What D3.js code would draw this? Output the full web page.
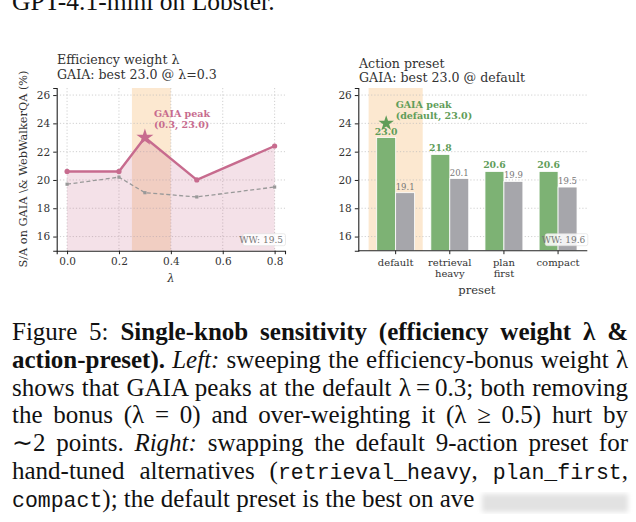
<!DOCTYPE html>
<html>
<head>
<meta charset="utf-8">
<script src="https://d3js.org/d3.v7.min.js"></script>
<style>
  body { margin: 0; background: white; }
  svg { display: block; }
  .cap { font-family: "Liberation Serif", "Times New Roman", serif; fill: #111; }
</style>
</head>
<body>
<div id="fig"></div>
<script>
// ---- data ----
var lambdas = [0.0, 0.2, 0.3, 0.5, 0.8];
var gaiaLambda = [20.6, 20.6, 23.0, 20.0, 22.4];
var wwLambda = [19.7, 20.2, 19.1, 18.8, 19.5];
var lambdaTicks = [0.0, 0.2, 0.4, 0.6, 0.8];

var presets = ["default", "retrieval heavy", "plan first", "compact"];
var gaiaPreset = [23.0, 21.8, 20.6, 20.6];
var wwPreset = [19.1, 20.1, 19.9, 19.5];

var yTicks = [16, 18, 20, 22, 24, 26];
var wwSummary = ["WW: 19.5", "WW: 19.6"];

var W = 636, H = 522;
var pink = "#c76b8e", green = "#7db274", greenDark = "#5f9d59", grey = "#a6a6ab";
var SERIF = "'DejaVu Serif', serif";

var svg = d3.select("#fig").append("svg").attr("width", W).attr("height", H);
var chart = svg.append("g").attr("class", "chart");

function grid(g, x0, x1, y) {
  g.selectAll(".hg").data(yTicks).enter().append("line")
    .attr("x1", x0).attr("x2", x1)
    .attr("y1", function(d) { return y(d); }).attr("y2", function(d) { return y(d); })
    .attr("stroke", "#bbb").attr("stroke-width", 0.7).attr("stroke-dasharray", "1.2,2");
}

function styleAxis(a) {
  a.attr("font-family", SERIF);
  a.select(".domain").attr("stroke", "#222").attr("stroke-width", 1.1);
  a.selectAll(".tick line").attr("stroke", "#222");
  a.selectAll("text").style("font-size", "10.5px").style("font-family", SERIF).attr("fill", "#333");
}

function yAxis(g, x0, y) {
  g.append("g").attr("transform", "translate(" + x0 + ",0)")
    .call(d3.axisLeft(y).tickValues(yTicks).tickSize(3.5).tickPadding(3).tickFormat(d3.format("d")))
    .call(styleAxis);
}

function wwBox(g, xr, yb, label) {
  var t = g.append("text").attr("x", xr - 2).attr("y", yb - 8)
    .attr("text-anchor", "end").style("font-size", "9px").style("fill", "#777").text(label);
  var bb = t.node().getBBox();
  g.insert("rect", "text:last-child")
    .attr("x", bb.x - 3).attr("y", bb.y - 1).attr("width", bb.width + 5).attr("height", bb.height + 2)
    .attr("rx", 2).attr("fill", "white").attr("fill-opacity", 0.85)
    .attr("stroke", "#ddd").attr("stroke-width", 0.6);
}

// ---------------- left panel ----------------
var L = chart.append("g");
var xl = d3.scaleLinear().domain([-0.04, 0.84]).range([56.7, 285]);
var yl = d3.scaleLinear().domain([15, 26.5]).range([250.7, 88]);

L.append("rect").attr("x", xl(0.25)).attr("width", xl(0.4) - xl(0.25))
  .attr("y", yl(26.5)).attr("height", yl(15) - yl(26.5))
  .attr("fill", "#f7c98f").attr("fill-opacity", 0.42);

grid(L, 56.7, 285, yl);
L.selectAll(".vg").data(lambdaTicks).enter().append("line")
  .attr("x1", function(d) { return xl(d); }).attr("x2", function(d) { return xl(d); })
  .attr("y1", yl(26.5)).attr("y2", yl(15))
  .attr("stroke", "#bbb").attr("stroke-width", 0.7).attr("stroke-dasharray", "1.2,2");

var pts = lambdas.map(function(l, i) { return [l, gaiaLambda[i], wwLambda[i]]; });
L.append("path").datum(pts)
  .attr("d", d3.area().x(function(d) { return xl(d[0]); }).y0(yl(15)).y1(function(d) { return yl(d[1]); }))
  .attr("fill", pink).attr("fill-opacity", 0.2);

L.append("path").datum(pts)
  .attr("d", d3.line().x(function(d) { return xl(d[0]); }).y(function(d) { return yl(d[2]); }))
  .attr("fill", "none").attr("stroke", "#999").attr("stroke-width", 1.3).attr("stroke-dasharray", "4,2.5");
L.selectAll(".wwpt").data(pts).enter().append("rect")
  .attr("x", function(d) { return xl(d[0]) - 1.6; }).attr("y", function(d) { return yl(d[2]) - 1.6; })
  .attr("width", 3.2).attr("height", 3.2).attr("fill", "#999");

L.append("path").datum(pts)
  .attr("d", d3.line().x(function(d) { return xl(d[0]); }).y(function(d) { return yl(d[1]); }))
  .attr("fill", "none").attr("stroke", pink).attr("stroke-width", 2.4);
L.selectAll(".gpt").data(pts.filter(function(d) { return d[0] !== 0.3; })).enter().append("circle")
  .attr("cx", function(d) { return xl(d[0]); }).attr("cy", function(d) { return yl(d[1]); })
  .attr("r", 2.6).attr("fill", pink);
L.append("path").attr("d", d3.symbol().type(d3.symbolStar).size(90)())
  .attr("transform", "translate(" + xl(0.3) + "," + yl(23.0) + ")").attr("fill", pink);

L.append("text").attr("x", xl(0.335)).attr("y", 117).style("font-size", "9.5px").style("font-weight", "bold")
  .style("fill", pink).text("GAIA peak");
L.append("text").attr("x", xl(0.335)).attr("y", 128).style("font-size", "9.5px").style("font-weight", "bold")
  .style("fill", pink).text("(0.3, 23.0)");

wwBox(L, 285, 250.7, wwSummary[0]);

yAxis(L, 56.7, yl);
L.append("g").attr("transform", "translate(0,250.7)")
  .call(d3.axisBottom(xl).tickValues(lambdaTicks).tickSize(3.5).tickPadding(3).tickFormat(d3.format(".1f")))
  .call(styleAxis);

L.append("text").attr("x", 57).attr("y", 63.5).style("font-size", "12.6px").text("Efficiency weight \u03bb");
L.append("text").attr("x", 57).attr("y", 79).style("font-size", "12.6px").text("GAIA: best 23.0 @ \u03bb=0.3");
L.append("text").attr("x", xl(0.4)).attr("y", 282).attr("text-anchor", "middle").style("font-size", "11.5px")
  .style("font-style", "italic").text("\u03bb");
L.append("text").attr("transform", "translate(27,169) rotate(-90)").attr("text-anchor", "middle")
  .style("font-size", "11.3px").text("S/A on GAIA \\& WebWalkerQA (%)");

// ---------------- right panel ----------------
var R = chart.append("g");
var xr = d3.scaleLinear().domain([-0.69, 3.54]).range([358.3, 587.3]);
var yr = d3.scaleLinear().domain([15, 26.5]).range([250.7, 88]);
var bw = 0.35;

R.append("rect").attr("x", xr(-0.5)).attr("width", xr(0.5) - xr(-0.5))
  .attr("y", yr(26.5)).attr("height", yr(15) - yr(26.5))
  .attr("fill", "#f7c98f").attr("fill-opacity", 0.42);
grid(R, 358.3, 587.3, yr);

R.selectAll(".gbar").data(gaiaPreset).enter().append("rect")
  .attr("x", function(d, i) { return xr(i - bw); }).attr("width", xr(bw) - xr(0))
  .attr("y", function(d) { return yr(d); }).attr("height", function(d) { return yr(15) - yr(d); })
  .attr("fill", green).attr("stroke", "white").attr("stroke-width", 0.8);
R.selectAll(".wbar").data(wwPreset).enter().append("rect")
  .attr("x", function(d, i) { return xr(i); }).attr("width", xr(bw) - xr(0))
  .attr("y", function(d) { return yr(d); }).attr("height", function(d) { return yr(15) - yr(d); })
  .attr("fill", grey).attr("stroke", "white").attr("stroke-width", 0.8);

R.selectAll(".glab").data(gaiaPreset).enter().append("text")
  .attr("x", function(d, i) { return xr(i - bw / 2); }).attr("y", function(d) { return yr(d) - 3; })
  .attr("text-anchor", "middle").style("font-size", "9.3px").style("font-weight", "bold")
  .style("fill", greenDark).text(function(d) { return d.toFixed(1); });
R.selectAll(".wlab").data(wwPreset).enter().append("text")
  .attr("x", function(d, i) { return xr(i + bw / 2); }).attr("y", function(d) { return yr(d) - 3; })
  .attr("text-anchor", "middle").style("font-size", "8.5px")
  .style("fill", "#777").text(function(d) { return d.toFixed(1); });

R.append("path").attr("d", d3.symbol().type(d3.symbolStar).size(75)())
  .attr("transform", "translate(" + xr(-bw / 2) + "," + yr(24.0) + ")").attr("fill", greenDark);
R.append("text").attr("x", xr(0)).attr("y", 108).style("font-size", "9.5px").style("font-weight", "bold")
  .style("fill", greenDark).text("GAIA peak");
R.append("text").attr("x", xr(0)).attr("y", 119).style("font-size", "9.5px").style("font-weight", "bold")
  .style("fill", greenDark).text("(default, 23.0)");

wwBox(R, 587.3, 250.7, wwSummary[1]);

yAxis(R, 358.3, yr);
R.append("line").attr("x1", 358.3).attr("x2", 587.3).attr("y1", 250.7).attr("y2", 250.7)
  .attr("stroke", "#222").attr("stroke-width", 1.1);
var ticks = R.selectAll(".xt").data(presets).enter().append("g")
  .attr("transform", function(d, i) { return "translate(" + xr(i) + ",250.7)"; });
ticks.append("line").attr("y2", 3.5).attr("stroke", "#222");
ticks.each(function(d) {
  var parts = d.split(" ");
  var t = d3.select(this).append("text").attr("text-anchor", "middle").style("font-size", "10px");
  parts.forEach(function(p, k) {
    t.append("tspan").attr("x", 0).attr("y", 15.5 + k * 11).text(p);
  });
});

R.append("text").attr("x", 359).attr("y", 67.5).style("font-size", "12.6px").text("Action preset");
R.append("text").attr("x", 359).attr("y", 81.5).style("font-size", "12.6px").text("GAIA: best 23.0 @ default");
R.append("text").attr("x", xr(1.5)).attr("y", 294).attr("text-anchor", "middle").style("font-size", "11.5px").text("preset");

// serif font + default colour for all chart texts
chart.selectAll("text").style("font-family", SERIF).each(function() {
  if (!this.style.fill) d3.select(this).style("fill", "#333");
});

// ---------------- caption ----------------
svg.append("text").attr("class", "cap").attr("x", 12).attr("y", 10).style("font-size", "25.5px")
  .text("GPT-4.1-mini on Lobster.");

var capLines = [
  [["Figure 5: ", "n"], ["Single-knob sensitivity (efficiency weight \u03bb &", "b"]],
  [["action-preset).", "b"], [" ", "n"], ["Left:", "i"], [" sweeping the efficiency-bonus weight \u03bb", "n"]],
  [["shows that GAIA peaks at the default \u03bb\u2009=\u20090.3; both removing", "n"]],
  [["the bonus (\u03bb = 0) and over-weighting it (\u03bb \u2265 0.5) hurt by", "n"]],
  [["\u223c2 points. ", "n"], ["Right:", "i"], [" swapping the default 9-action preset for", "n"]],
  [["hand-tuned alternatives (", "n"], ["retrieval_heavy", "m"], [", ", "n"], ["plan_first", "m"], [",", "n"]],
  [["compact", "m"], ["); the default preset is the best on ave", "n"]]
];
var capX = 12, capW = 616, base0 = 340, lead = 27.8;
capLines.forEach(function(line, li) {
  var t = svg.append("text").attr("class", "cap").attr("x", capX).attr("y", base0 + li * lead)
    .style("font-size", "25px").attr("xml:space", "preserve");
  line.forEach(function(seg) {
    var s = t.append("tspan").text(seg[0]);
    if (seg[1] === "b") s.style("font-weight", "bold");
    if (seg[1] === "i") s.style("font-style", "italic");
    if (seg[1] === "m") s.style("font-family", "'Liberation Mono', monospace").style("font-size", "21.5px");
  });
  if (li < capLines.length - 1) {
    var len = t.node().getComputedTextLength();
    var txt = line.map(function(s) { return s[0]; }).join("");
    var spaces = (txt.match(/ /g) || []).length;
    if (spaces > 0) t.attr("word-spacing", (capW - len) / spaces);
  }
});

// blurred smudge after the last line
var defs = svg.append("defs");
defs.append("filter").attr("id", "blur").append("feGaussianBlur").attr("stdDeviation", 2.5);
svg.append("rect").attr("x", 482).attr("y", 494).attr("width", 146).attr("height", 18)
  .attr("fill", "#e2e2e2").attr("filter", "url(#blur)");
</script>
</body>
</html>
